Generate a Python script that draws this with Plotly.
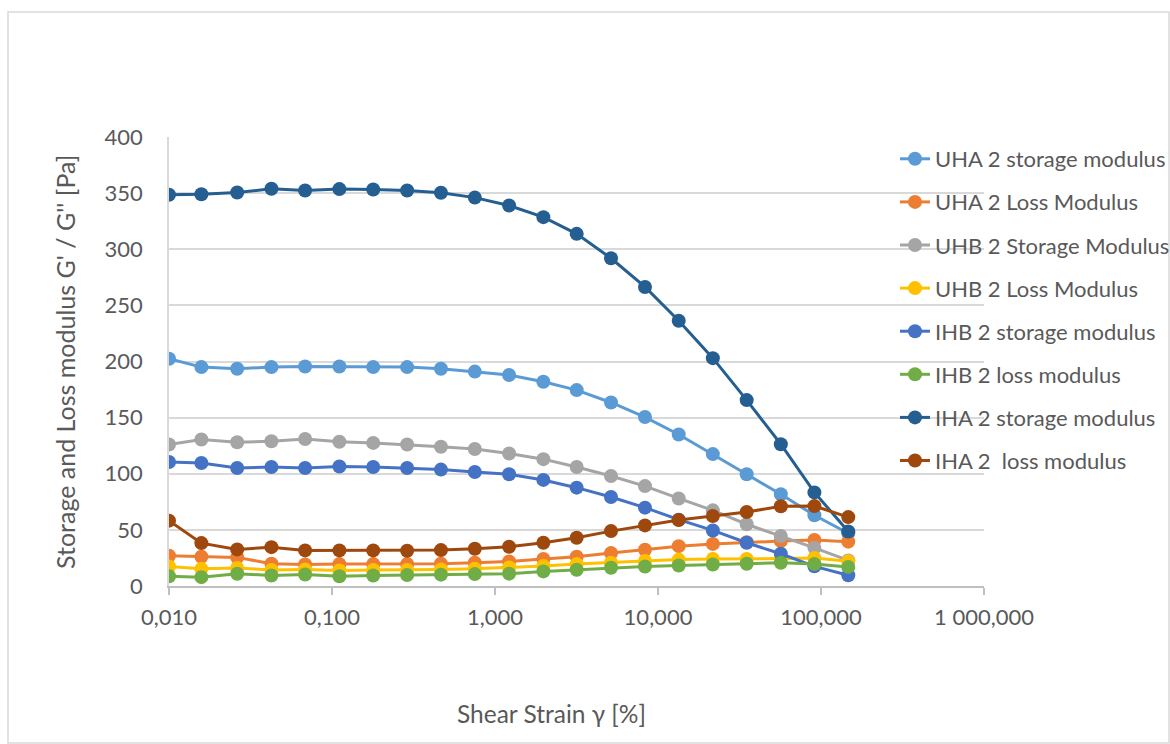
import plotly.graph_objects as go

strain = [0.01, 0.0158, 0.0262, 0.0425, 0.0684, 0.111, 0.179, 0.289, 0.466, 0.752,
          1.22, 1.98, 3.17, 5.15, 8.32, 13.4, 21.7, 35.0, 56.7, 91.1, 147]

uha_storage = [202.5, 195, 193.5, 195, 195.5, 195.5, 195, 195, 193.5, 191,
               188, 182, 174.5, 163.5, 150.5, 135, 117.5, 99.5, 81.7, 63, 47]
uha_loss = [27, 26, 25.5, 19.8, 19.2, 19.5, 19.5, 19.5, 19.8, 20.7,
            21.9, 24, 26, 29.3, 32.3, 35.5, 37.5, 39, 40, 41, 39.5]
uhb_storage = [126, 130.5, 128, 129, 131, 128.5, 127.5, 126, 124, 122,
               118, 113, 106, 98, 89, 78, 67.4, 55, 44.5, 34, 22.8]
uhb_loss = [17.4, 15.3, 16, 14.3, 14.8, 13.8, 14.3, 14.3, 14.8, 15.4,
            16.5, 17.8, 19.5, 20.8, 22.3, 23.5, 24, 24, 24.5, 25, 22]
ihb_storage = [110.5, 109.6, 105.1, 106, 105.1, 106.4, 106, 105.1, 103.7, 101.5,
               99.5, 94.5, 87.6, 79.3, 69.8, 59.1, 49.5, 38.5, 28.7, 17.5, 9.6]
ihb_loss = [8.7, 7.9, 10.9, 9.4, 10.3, 8.7, 9.4, 9.8, 10.1, 10.6,
            11, 13, 14.5, 16.2, 17.4, 18.3, 19.2, 19.8, 20.7, 19.5, 17]
iha_storage = [348.5, 349, 350.5, 353.9, 352.4, 353.6, 353.2, 352.4, 350.3, 346,
               339, 328.6, 313.7, 292, 266.4, 236.3, 203, 165.6, 126.3, 83.4, 48.6]
iha_loss = [58.2, 38.2, 32.6, 34.6, 31.7, 31.7, 31.7, 31.4, 32, 33.2,
            35, 38.5, 43, 48.9, 54, 58.7, 62.3, 65.9, 71, 71.2, 61.4]

series_names = ["UHA 2 storage modulus", "UHA 2 Loss Modulus", "UHB 2 Storage Modulus",
                "UHB 2 Loss Modulus", "IHB 2 storage modulus", "IHB 2 loss modulus",
                "IHA 2 storage modulus", "IHA 2  loss modulus"]
series_values = [uha_storage, uha_loss, uhb_storage, uhb_loss,
                 ihb_storage, ihb_loss, iha_storage, iha_loss]
series_colors = ["#5B9BD5", "#ED7D31", "#A5A5A5", "#FFC000",
                 "#4472C4", "#70AD47", "#255E91", "#9E480E"]

x_tickvals = [0.01, 0.1, 1, 10, 100, 1000]
x_ticktext = ["0,010", "0,100", "1,000", "10,000", "100,000", "1 000,000"]
y_tickvals = [0, 50, 100, 150, 200, 250, 300, 350, 400]

FONT = "Lato, 'Open Sans', sans-serif"
TXT = "#595959"
FS = 22

fig = go.Figure()
for i, (name, vals, col) in enumerate(zip(series_names, series_values, series_colors)):
    fig.add_trace(go.Scatter(
        x=strain, y=vals, name=name, mode="lines+markers",
        line=dict(color=col, width=3),
        marker=dict(color=col, size=14),
        legendgroup=f"g{i}",
    ))

W, H = 1170, 744
L, R, T, B = 169, 186, 137, 158
pw, ph = W - L - R, H - T - B

def px(xp):
    return (xp - L) / pw

def py(yp):
    return (H - B - yp) / ph

fig.update_layout(
    width=W, height=H,
    margin=dict(l=L, r=R, t=T, b=B, autoexpand=False),
    paper_bgcolor="white", plot_bgcolor="white",
    font=dict(family=FONT, size=FS, color=TXT),
    showlegend=True,
    legend=dict(
        x=px(895), y=py(138), xanchor="left", yanchor="top",
        font=dict(family=FONT, size=FS, color=TXT),
        tracegroupgap=11.5, bgcolor="rgba(0,0,0,0)",
    ),
    xaxis=dict(
        type="log", range=[-2, 3],
        tickvals=x_tickvals, ticktext=x_ticktext,
        showgrid=False, zeroline=False,
        showline=True, linecolor="#BFBFBF", linewidth=1.5,
        ticks="outside", ticklen=7, tickcolor="#BFBFBF", tickwidth=1.5,
        ticklabelstandoff=4,
        tickfont=dict(family=FONT, size=FS, color=TXT),
    ),
    yaxis=dict(
        range=[0, 400], tickvals=y_tickvals,
        showgrid=True, gridcolor="#D9D9D9", gridwidth=1.5,
        zeroline=False, showline=True, linecolor="#D9D9D9", linewidth=1.5,
        ticks="", ticklabelstandoff=20,
        tickfont=dict(family=FONT, size=FS, color=TXT),
    ),
    annotations=[
        dict(text="Shear Strain γ [%]", xref="paper", yref="paper",
             x=px(551), y=py(713), showarrow=False,
             xanchor="center", yanchor="middle",
             font=dict(family=FONT, size=24.5, color=TXT)),
        dict(text="Storage and Loss modulus G' / G'' [Pa]", xref="paper", yref="paper",
             x=px(65), y=py(362), showarrow=False, textangle=-90,
             xanchor="center", yanchor="middle",
             font=dict(family=FONT, size=25, color=TXT)),
    ],
    shapes=[
        dict(type="rect", xref="paper", yref="paper",
             x0=px(8), x1=px(1169), y0=py(743), y1=py(12),
             line=dict(color="#D9D9D9", width=1.5), layer="below"),
    ],
)

fig.write_html("out.html")
